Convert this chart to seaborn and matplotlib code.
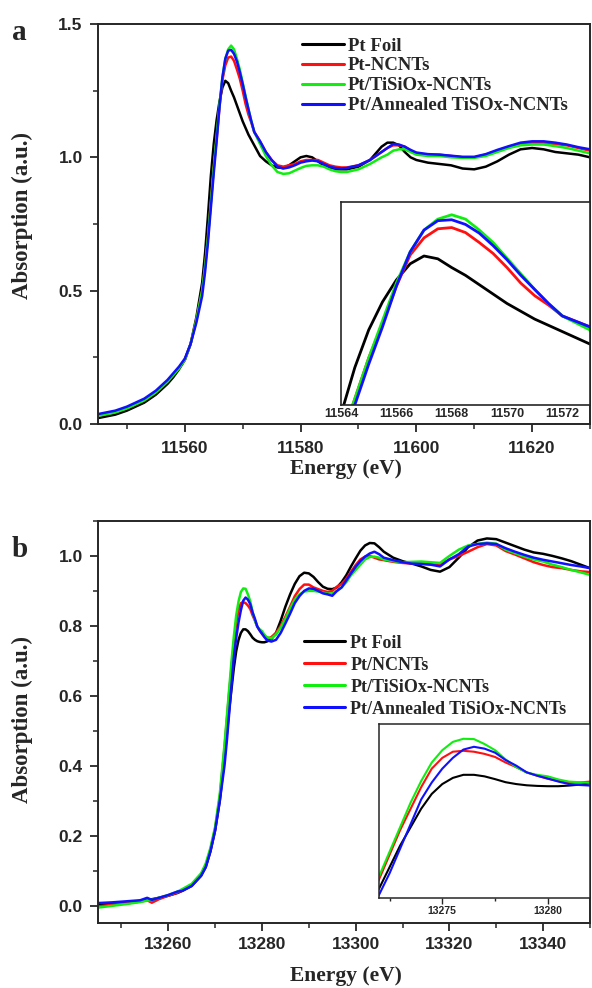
import pandas as pd
import matplotlib
matplotlib.use('Agg')
import matplotlib.pyplot as plt
import seaborn as sns
from matplotlib.ticker import MultipleLocator
from matplotlib.font_manager import FontProperties

# ---------------- panel a (Pt L3 edge) ----------------
energy_a = [11545, 11548, 11550, 11553, 11555, 11557, 11558, 11559, 11560, 11561,
            11562, 11563, 11563.5, 11564, 11564.5, 11565, 11565.5, 11566, 11566.5, 11567,
            11567.5, 11568, 11568.5, 11569, 11569.5, 11570, 11570.5, 11571, 11571.5, 11572,
            11573, 11574, 11575, 11576, 11577, 11578, 11579, 11580, 11581, 11582,
            11583, 11584, 11585, 11586, 11587, 11588, 11590, 11592, 11594, 11595,
            11596, 11597, 11598, 11599, 11600, 11602, 11604, 11606, 11608, 11610,
            11612, 11614, 11616, 11618, 11620, 11622, 11624, 11626, 11628, 11630]
foil_a = [0.022, 0.035, 0.05, 0.08, 0.11, 0.15, 0.175, 0.205, 0.24, 0.30,
          0.40, 0.53, 0.64, 0.78, 0.93, 1.05, 1.14, 1.21, 1.262, 1.287,
          1.278, 1.25, 1.225, 1.195, 1.165, 1.135, 1.11, 1.085, 1.065, 1.045,
          1.005, 0.985, 0.97, 0.962, 0.96, 0.97, 0.985, 1.0, 1.005, 1.0,
          0.985, 0.97, 0.96, 0.955, 0.955, 0.955, 0.965, 0.99, 1.04, 1.055,
          1.055, 1.045, 1.02, 1.0, 0.99, 0.98, 0.975, 0.97, 0.958, 0.955,
          0.965, 0.985, 1.01, 1.03, 1.035, 1.03, 1.02, 1.015, 1.01, 1.0]
ncnt_a = [0.032, 0.045, 0.06, 0.09, 0.12, 0.16, 0.185, 0.21, 0.24, 0.30,
          0.39, 0.50, 0.59, 0.70, 0.83, 0.96, 1.07, 1.19, 1.29, 1.345,
          1.374, 1.378, 1.362, 1.33, 1.295, 1.25, 1.20, 1.16, 1.13, 1.095,
          1.06, 1.02, 0.99, 0.97, 0.965, 0.97, 0.975, 0.985, 0.99, 0.99,
          0.99, 0.98, 0.97, 0.965, 0.962, 0.962, 0.97, 0.99, 1.02, 1.035,
          1.045, 1.045, 1.04, 1.025, 1.015, 1.01, 1.01, 1.005, 1.0, 1.0,
          1.01, 1.025, 1.04, 1.05, 1.055, 1.055, 1.05, 1.045, 1.035, 1.025]
tisiox_a = [0.03, 0.043, 0.058, 0.088, 0.118, 0.158, 0.183, 0.208, 0.24, 0.30,
            0.39, 0.50, 0.59, 0.70, 0.83, 0.96, 1.08, 1.20, 1.30, 1.37,
            1.405, 1.419, 1.405, 1.37, 1.33, 1.28, 1.23, 1.18, 1.135, 1.095,
            1.05, 1.005, 0.97, 0.945, 0.938, 0.94, 0.95, 0.96, 0.968, 0.97,
            0.97, 0.965, 0.955, 0.948, 0.945, 0.945, 0.955, 0.975, 1.0, 1.01,
            1.025, 1.03, 1.03, 1.02, 1.01, 1.005, 1.005, 1.0, 0.998, 0.998,
            1.005, 1.02, 1.035, 1.045, 1.048, 1.048, 1.042, 1.035, 1.025, 1.015]
annealed_a = [0.037, 0.05, 0.065, 0.095, 0.125, 0.165, 0.19, 0.215, 0.245, 0.30,
              0.38, 0.48, 0.57, 0.68, 0.81, 0.94, 1.06, 1.19, 1.30, 1.37,
              1.40, 1.403, 1.388, 1.36, 1.32, 1.275, 1.225, 1.18, 1.135, 1.095,
              1.06, 1.02, 0.99, 0.965, 0.958, 0.962, 0.97, 0.98, 0.985, 0.988,
              0.985, 0.975, 0.965, 0.96, 0.958, 0.96, 0.97, 0.99, 1.02, 1.035,
              1.05, 1.048, 1.04, 1.028, 1.018, 1.012, 1.01, 1.006, 1.002, 1.002,
              1.012, 1.028, 1.042, 1.055, 1.06, 1.06, 1.055, 1.048, 1.038, 1.03]
labels_a = ['Pt Foil', 'Pt-NCNTs', 'Pt/TiSiOx-NCNTs', 'Pt/Annealed TiSOx-NCNTs']

# ---------------- panel b (Pt L2 edge) ----------------
energy_b = [13245, 13248, 13251, 13254, 13255.5, 13256.5, 13258, 13260, 13262, 13263,
            13265, 13267, 13268, 13269, 13270, 13271, 13272, 13272.5, 13273, 13273.5,
            13274, 13274.5, 13275, 13275.5, 13276, 13276.5, 13277, 13277.5, 13278, 13278.5,
            13279, 13279.5, 13280, 13280.5, 13281, 13281.5, 13282, 13283, 13284, 13285,
            13286, 13287, 13288, 13289, 13290, 13291, 13292, 13293, 13294, 13295,
            13296, 13297, 13298, 13299, 13300, 13301, 13302, 13303, 13304, 13305,
            13306, 13308, 13310, 13312, 13314, 13316, 13318, 13320, 13322, 13324,
            13326, 13328, 13330, 13332, 13334, 13336, 13338, 13340, 13342, 13344,
            13346, 13348, 13350]
foil_b = [0.003, 0.006, 0.009, 0.013, 0.016, 0.018, 0.022, 0.028, 0.036, 0.042,
          0.056, 0.085, 0.11, 0.155, 0.215, 0.30, 0.42, 0.49, 0.56, 0.62,
          0.68, 0.728, 0.76, 0.78, 0.79, 0.79, 0.785, 0.776, 0.766, 0.76,
          0.756, 0.754, 0.753, 0.753, 0.755, 0.758, 0.762, 0.78, 0.815, 0.855,
          0.89, 0.92, 0.942, 0.952, 0.95, 0.94, 0.925, 0.912, 0.906, 0.905,
          0.91, 0.925, 0.945, 0.97, 0.993, 1.015, 1.03, 1.037, 1.036, 1.025,
          1.012, 0.995, 0.985, 0.978, 0.97, 0.96, 0.955, 0.968, 0.995, 1.025,
          1.044, 1.05, 1.048, 1.038, 1.028, 1.018, 1.01, 1.006, 1.0, 0.993,
          0.985, 0.975, 0.965]
ncnt_b = [-0.003, 0.002, 0.006, 0.011, 0.015, 0.008, 0.018, 0.028, 0.037, 0.043,
          0.058, 0.088, 0.115, 0.16, 0.22, 0.31, 0.45, 0.53, 0.61, 0.68,
          0.75, 0.81, 0.845, 0.865, 0.868, 0.865, 0.858, 0.848, 0.83, 0.815,
          0.798, 0.787, 0.777, 0.77, 0.765, 0.765, 0.768, 0.78, 0.80, 0.826,
          0.855, 0.885, 0.905, 0.918, 0.918, 0.91, 0.905, 0.90, 0.897, 0.90,
          0.912, 0.92, 0.935, 0.955, 0.974, 0.99, 0.998, 1.0, 0.995, 0.99,
          0.988, 0.983, 0.98, 0.978, 0.978, 0.976, 0.975, 0.99, 1.0, 1.012,
          1.025, 1.034, 1.03, 1.014, 1.004, 0.993, 0.982, 0.974, 0.968, 0.965,
          0.96, 0.956, 0.954]
tisiox_b = [-0.006, -0.001, 0.004, 0.01, 0.014, 0.016, 0.022, 0.03, 0.04, 0.047,
            0.062, 0.092, 0.12, 0.165, 0.225, 0.32, 0.46, 0.54, 0.62, 0.70,
            0.77, 0.83, 0.87, 0.897, 0.907, 0.906, 0.89, 0.87, 0.84, 0.815,
            0.797, 0.79, 0.785, 0.775, 0.768, 0.766, 0.764, 0.775, 0.795, 0.82,
            0.85, 0.875, 0.89, 0.898, 0.90, 0.90, 0.898, 0.895, 0.892, 0.893,
            0.90, 0.91, 0.925, 0.945, 0.96, 0.975, 0.99, 0.997, 0.998, 0.995,
            0.99, 0.985, 0.982, 0.983, 0.984, 0.982, 0.98, 1.0, 1.018, 1.03,
            1.034, 1.038, 1.035, 1.018, 1.008, 0.998, 0.99, 0.984, 0.975, 0.968,
            0.96, 0.953, 0.946]
annealed_b = [0.007, 0.009, 0.012, 0.015, 0.022, 0.016, 0.022, 0.03, 0.04, 0.042,
              0.056, 0.085, 0.11, 0.155, 0.215, 0.30, 0.40, 0.47, 0.55, 0.63,
              0.71, 0.765, 0.81, 0.845, 0.872, 0.881, 0.875, 0.862, 0.838, 0.82,
              0.798, 0.787, 0.778, 0.768, 0.76, 0.757, 0.755, 0.76, 0.78, 0.807,
              0.835, 0.865, 0.885, 0.90, 0.907, 0.906, 0.90, 0.893, 0.89, 0.886,
              0.90, 0.91, 0.93, 0.95, 0.969, 0.985, 0.998, 1.007, 1.012, 1.005,
              0.995, 0.988, 0.982, 0.978, 0.977, 0.975, 0.97, 0.99, 1.005, 1.027,
              1.034, 1.036, 1.034, 1.022, 1.012, 1.003, 0.995, 0.989, 0.984, 0.979,
              0.974, 0.97, 0.965]
labels_b = ['Pt Foil', 'Pt/NCNTs', 'Pt/TiSiOx-NCNTs', 'Pt/Annealed TiSiOx-NCNTs']

colors = ['black', '#ff1010', '#10ee10', '#1010ff']


def to_long(energy, series, labels):
    frames = []
    for lab, vals in zip(labels, series):
        frames.append(pd.DataFrame({'Energy': energy, 'Absorption': vals, 'Sample': lab}))
    return pd.concat(frames, ignore_index=True)


df_a = to_long(energy_a, [foil_a, ncnt_a, tisiox_a, annealed_a], labels_a)
df_b = to_long(energy_b, [foil_b, ncnt_b, tisiox_b, annealed_b], labels_b)

sns.set_style('ticks')
plt.rcParams['font.family'] = ['Liberation Sans', 'DejaVu Sans']
plt.rcParams['font.weight'] = 'bold'


def serif(size):
    return FontProperties(family='Liberation Serif', weight='bold', size=size)


tick_font = FontProperties(family='Liberation Sans', weight='bold', size=12.5)

fig = plt.figure(figsize=(5.92, 9.88), dpi=100)
ax1 = fig.add_axes([0.1655, 0.5709, 0.8311, 0.4048])
ax2 = fig.add_axes([0.1655, 0.0658, 0.8311, 0.4069])
ins1 = fig.add_axes([0.576, 0.5901, 0.4206, 0.2055])
ins2 = fig.add_axes([0.6402, 0.0911, 0.3564, 0.1761])


def draw(ax, df, labels, lw):
    sns.lineplot(data=df, x='Energy', y='Absorption', hue='Sample', hue_order=labels,
                 palette=colors, linewidth=lw, estimator=None, legend=False, ax=ax)


def style_main(ax, xmaj, ymaj, xpad):
    ax.xaxis.set_major_locator(MultipleLocator(xmaj))
    ax.xaxis.set_minor_locator(MultipleLocator(xmaj / 2))
    ax.yaxis.set_major_locator(MultipleLocator(ymaj))
    ax.yaxis.set_minor_locator(MultipleLocator(ymaj / 2))
    ax.tick_params(which='major', direction='out', length=6, width=1.3, top=False, right=False)
    ax.tick_params(which='minor', direction='out', length=3.5, width=1.1, top=False, right=False)
    ax.tick_params(axis='x', which='major', pad=xpad)
    ax.tick_params(axis='y', which='major', pad=5)
    for lab in ax.get_xticklabels() + ax.get_yticklabels():
        lab.set_fontproperties(tick_font)
    for sp in ax.spines.values():
        sp.set_linewidth(1.4)
        sp.set_visible(True)
    ax.set_xlabel('Energy (eV)', fontproperties=serif(15.5))
    ax.set_ylabel('Absorption (a.u.)', fontproperties=serif(16.5))


# ---- panel a ----
draw(ax1, df_a, labels_a, 1.8)
ax1.set_xlim(11545, 11630)
ax1.set_ylim(0, 1.5)
style_main(ax1, 20, 0.5, 6)
ax1.xaxis.set_label_coords(0.504, -0.088)
ax1.yaxis.set_label_coords(-0.132, 0.52)
leg1 = ax1.legend(ax1.lines[:4], labels_a, loc='upper left', bbox_to_anchor=(0.396, 0.99),
                  frameon=False, prop=serif(13.5),
                  handlelength=2.25, handletextpad=0.2, labelspacing=0.15, borderpad=0)
for h in leg1.get_lines():
    h.set_linewidth(2.2)

draw(ins1, df_a, labels_a, 2.0)
ins1.set_xlim(11564, 11573)
ins1.set_ylim(0.81, 1.46)
ins1.xaxis.set_major_locator(MultipleLocator(2))
ins1.set_yticks([])
ins1.tick_params(axis='x', length=0, pad=2)
for lab in ins1.get_xticklabels():
    lab.set_fontproperties(FontProperties(family='Liberation Sans', weight='bold', size=9))
ins1.set_xlabel('')
ins1.set_ylabel('')
for sp in ins1.spines.values():
    sp.set_linewidth(1.2)

# ---- panel b ----
draw(ax2, df_b, labels_b, 1.8)
ax2.set_xlim(13245, 13350)
ax2.set_ylim(-0.05, 1.1)
style_main(ax2, 20, 0.2, 4)
ax2.xaxis.set_label_coords(0.504, -0.108)
ax2.yaxis.set_label_coords(-0.132, 0.505)
leg2 = ax2.legend(ax2.lines[:4], labels_b, loc='upper left', bbox_to_anchor=(0.40, 0.74),
                  frameon=False, prop=serif(13),
                  handlelength=2.3, handletextpad=0.27, labelspacing=0.28, borderpad=0)
for h in leg2.get_lines():
    h.set_linewidth(2.2)

draw(ins2, df_b, labels_b, 1.5)
ins2.set_xlim(13272, 13282)
ins2.set_ylim(0.39, 0.955)
ins2.xaxis.set_major_locator(MultipleLocator(5))
ins2.xaxis.set_minor_locator(MultipleLocator(2.5))
ins2.set_yticks([])
ins2.tick_params(axis='x', which='major', direction='out', length=4, width=1, pad=2)
ins2.tick_params(axis='x', which='minor', direction='out', length=2.5, width=1)
for lab in ins2.get_xticklabels():
    lab.set_fontproperties(FontProperties(family='Liberation Sans', size=7.5))
ins2.set_xlabel('')
ins2.set_ylabel('')
for sp in ins2.spines.values():
    sp.set_linewidth(1.1)

# panel letters
fig.text(0.02, 0.9595, 'a', fontproperties=serif(21))
fig.text(0.02, 0.4362, 'b', fontproperties=serif(21))

fig.savefig('out.png', dpi=100)
